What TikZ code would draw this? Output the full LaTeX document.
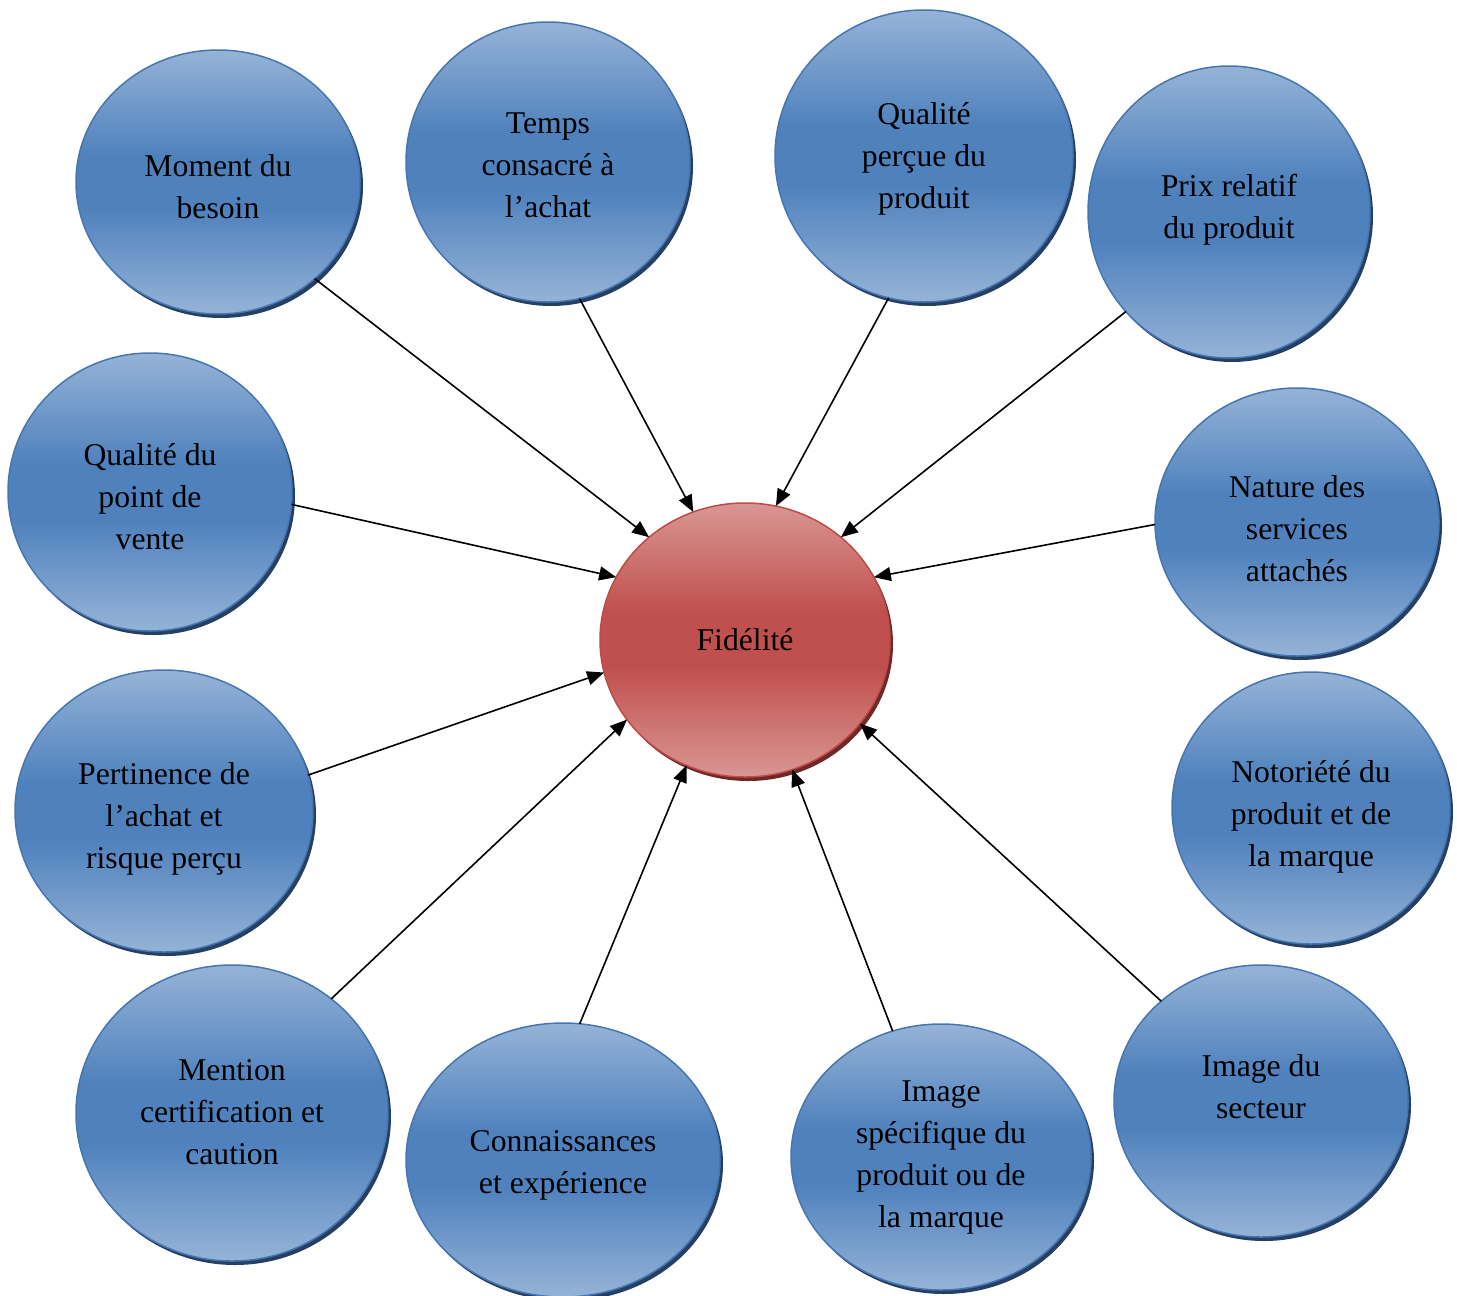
\documentclass[tikz,border=0pt]{standalone}
\usepackage{fontspec}
\setmainfont{Liberation Serif}
\usetikzlibrary{shapes.geometric,arrows.meta,shadows}
\definecolor{blueLight}{RGB}{149,179,215}
\definecolor{blueMid}{RGB}{79,129,189}
\definecolor{blueEdge}{RGB}{70,118,178}
\definecolor{blueShade}{RGB}{38,64,100}
\definecolor{redLight}{RGB}{217,150,148}
\definecolor{redMid}{RGB}{192,80,77}
\definecolor{redEdge}{RGB}{190,75,72}
\definecolor{redShade}{RGB}{110,40,38}
% light at the rim, a broad dark band across the middle
\pgfdeclareverticalshading{bluebubble}{100bp}{%
  color(0bp)=(blueLight); color(25bp)=(blueLight); color(45bp)=(blueMid);
  color(55bp)=(blueMid); color(75bp)=(blueLight); color(100bp)=(blueLight)}
\pgfdeclareverticalshading{redbubble}{100bp}{%
  color(0bp)=(redLight); color(25bp)=(redLight); color(45bp)=(redMid);
  color(55bp)=(redMid); color(75bp)=(redLight); color(100bp)=(redLight)}
\tikzset{
  factor/.style={ellipse, inner sep=0pt, outer sep=0pt,
    draw=blueEdge, line width=1.5pt, shading=bluebubble,
    general shadow={shadow xshift=3pt, shadow yshift=-4pt, fill=blueShade}},
  core/.style={ellipse, inner sep=0pt, outer sep=0pt,
    draw=redEdge, line width=1.5pt, shading=redbubble,
    general shadow={shadow xshift=3pt, shadow yshift=-4pt, fill=redShade}},
  caption/.style={inner sep=0pt, align=center,
    font=\fontsize{31.7}{42}\selectfont,
    execute at begin node={\rule{0pt}{28.2pt}},
    execute at end node={\rule[-6.8pt]{0pt}{0pt}}},
  link/.style={line width=1.6pt, -{Triangle[length=17pt,width=14pt]}}
}
\begin{document}
\begin{tikzpicture}[x=1pt,y=-1pt]
\useasboundingbox (0,0) rectangle (1457,1296);
% central node
\node[core, minimum width=290pt, minimum height=274pt] (fid) at (745,640) {};
\node[caption] (fid-t) at (745,640) {Fidélité};
% surrounding factors
\node[factor, minimum width=284pt, minimum height=264pt] (moment) at (218,182) {};
\node[factor, minimum width=284pt, minimum height=280pt] (temps) at (548,162) {};
\node[factor, minimum width=298pt, minimum height=292pt] (qualite) at (924,156) {};
\node[factor, minimum width=282pt, minimum height=292pt] (prix) at (1229,212) {};
\node[factor, minimum width=284pt, minimum height=278pt] (vente) at (150,492) {};
\node[factor, minimum width=284pt, minimum height=268pt] (nature) at (1297,522) {};
\node[factor, minimum width=298pt, minimum height=282pt] (pert) at (164,811) {};
\node[factor, minimum width=278pt, minimum height=272pt] (noto) at (1311,808) {};
\node[factor, minimum width=312pt, minimum height=296pt] (mention) at (232,1113) {};
\node[factor, minimum width=314pt, minimum height=274pt] (conn) at (563,1160) {};
\node[factor, minimum width=300pt, minimum height=266pt] (imspec) at (941,1157) {};
\node[factor, minimum width=294pt, minimum height=272pt] (imsect) at (1261,1101) {};
% captions
\node[caption] (moment-t) at (218,190) {Moment du\\besoin};
\node[caption] (temps-t) at (548,169) {Temps\\consacré à\\l’achat};
\node[caption] (qualite-t) at (924,159) {Qualité\\perçue du\\produit};
\node[caption] (prix-t) at (1229,210) {Prix relatif\\du produit};
\node[caption] (vente-t) at (150,500) {Qualité du\\point de\\vente};
\node[caption] (nature-t) at (1297,532) {Nature des\\services\\attachés};
\node[caption] (pert-t) at (164,819) {Pertinence de\\l’achat et\\risque perçu};
\node[caption] (noto-t) at (1311,817) {Notoriété du\\produit et de\\la marque};
\node[caption] (mention-t) at (232,1115) {Mention\\certification et\\caution};
\node[caption] (conn-t) at (563,1165) {Connaissances\\et expérience};
\node[caption] (imspec-t) at (941,1158) {Image\\spécifique du\\produit ou de\\la marque};
\node[caption] (imsect-t) at (1261,1090) {Image du\\secteur};
% influences on loyalty
\draw[link] (moment.-45) -- (fid.133.6);
\draw[link] (temps.-77) -- (fid.112.4);
\draw[link] (qualite.256.3) -- (fid.77);
\draw[link] (prix.224.7) -- (fid.47);
\draw[link] (vente.-5.2) -- (fid.154.5);
\draw[link] (nature.181.2) -- (fid.26);
\draw[link] (pert.14.5) -- (fid.193.6);
\draw[link] (mention.49.3) -- (fid.214.4);
\draw[link] (conn.83.8) -- (fid.245.3);
\draw[link] (imspec.111) -- (fid.290.3);
\draw[link] (imsect.135) -- (fid.324);
\end{tikzpicture}
\end{document}
